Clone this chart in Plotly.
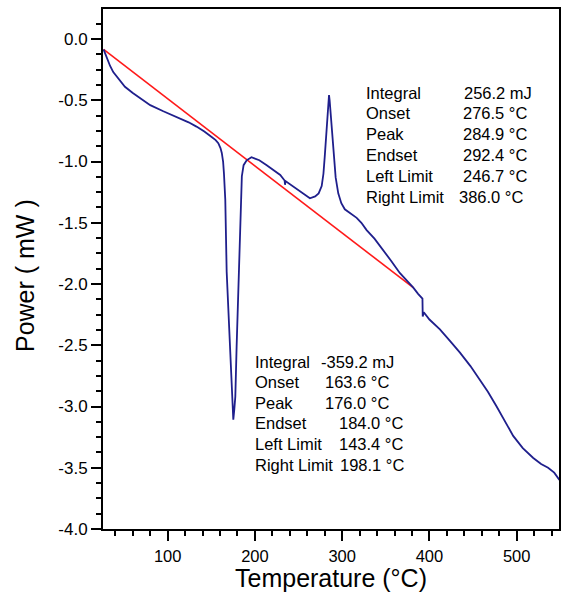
import plotly.graph_objects as go

# ---- DSC curve (Temperature °C, Power mW) ----
temperature = [26.5, 30, 34, 37.6, 44, 51, 60, 68, 80, 95, 105, 114, 124, 133, 142,
               150.4, 155, 158, 160.5, 162, 163.5, 164.5, 166, 167.6, 169.5, 171.4,
               173, 174, 175.2, 176.4, 177.5, 179, 180.9, 182.5, 183.5, 185, 187,
               190.5, 196, 205, 213.5, 222, 229, 234, 234.5, 235, 241, 248, 256,
               263, 269, 273, 276.5, 278.5, 280, 281.5, 283, 284.3, 284.9, 285.6,
               287, 288.5, 290, 292.5, 295.5, 299, 303, 310, 316.6, 322, 328, 337,
               347, 356, 366, 374, 381.5, 387, 392, 392.3, 393.5, 400, 412, 423,
               435, 447, 458, 467, 477, 486, 496, 507, 519, 528, 536, 543, 549]
power = [-0.085, -0.15, -0.22, -0.27, -0.33, -0.39, -0.44, -0.48, -0.54, -0.59,
         -0.62, -0.65, -0.68, -0.715, -0.755, -0.80, -0.825, -0.85, -0.89, -0.93,
         -1.0, -1.1, -1.31, -1.9, -2.2, -2.51, -2.75, -2.92, -3.108, -3.02, -2.92,
         -2.51, -2.0, -1.59, -1.3, -1.12, -1.03, -0.99, -0.965, -0.99, -1.03,
         -1.07, -1.11, -1.155, -1.19, -1.16, -1.19, -1.23, -1.27, -1.30, -1.285,
         -1.26, -1.2, -1.1, -0.96, -0.8, -0.63, -0.5, -0.457, -0.5, -0.63, -0.8,
         -0.96, -1.13, -1.26, -1.34, -1.39, -1.43, -1.46, -1.5, -1.56, -1.63,
         -1.72, -1.81, -1.91, -1.97, -2.03, -2.08, -2.12, -2.265, -2.23, -2.29,
         -2.37, -2.46, -2.56, -2.67, -2.78, -2.88, -3.0, -3.11, -3.24, -3.34,
         -3.42, -3.47, -3.50, -3.54, -3.60]

# ---- integration baseline (red) ----
baseline_t = [26.5, 381.5]
baseline_p = [-0.085, -2.03]

# ---- result tables ----
exo_labels = ["Integral", "Onset", "Peak", "Endset", "Left Limit", "Right Limit"]
exo_values = ["256.2 mJ", "276.5 °C", "284.9 °C", "292.4 °C", "246.7 °C", "386.0 °C"]
endo_labels = ["Integral", "Onset", "Peak", "Endset", "Left Limit", "Right Limit"]
endo_values = ["-359.2 mJ", "163.6 °C", "176.0 °C", "184.0 °C", "143.4 °C", "198.1 °C"]

# ---- tick values and titles ----
x_ticks = [100, 200, 300, 400, 500]
y_ticks = [0.0, -0.5, -1.0, -1.5, -2.0, -2.5, -3.0, -3.5, -4.0]
x_title = "Temperature (°C)"
y_title = "Power ( mW )"

# annotation placement (data coordinates)
exo_label_x = 325.0
exo_value_x = [437.3, 436.2, 436.2, 436.2, 436.2, 431.6]
exo_row_y = [-0.443, -0.606, -0.775, -0.946, -1.117, -1.286]
endo_label_x = 198.1
endo_value_x = [273.4, 277.6, 277.6, 294.4, 293.7, 295.5]
endo_row_y = [-2.640, -2.803, -2.971, -3.135, -3.303, -3.475]

FONT = "Arial, 'Liberation Sans', sans-serif"

fig = go.Figure()
fig.add_trace(go.Scatter(x=baseline_t, y=baseline_p, mode="lines",
                         line=dict(color="#ff1a1a", width=1.6), showlegend=False))
fig.add_trace(go.Scatter(x=temperature, y=power, mode="lines",
                         line=dict(color="#1f1f8c", width=1.8), showlegend=False))

annotations = []
def add_row(x, y, text):
    annotations.append(dict(x=x, y=y, text=text, xref="x", yref="y",
                            xanchor="left", yanchor="middle", showarrow=False,
                            font=dict(size=16.5, color="black", family=FONT)))

for lab, val, vx, ry in zip(exo_labels, exo_values, exo_value_x, exo_row_y):
    add_row(exo_label_x, ry, lab)
    add_row(vx, ry, val)
for lab, val, vx, ry in zip(endo_labels, endo_values, endo_value_x, endo_row_y):
    add_row(endo_label_x, ry, lab)
    add_row(vx, ry, val)

# axis titles
annotations.append(dict(x=0.5, y=-0.095, xref="paper", yref="paper", text=x_title,
                        xanchor="center", yanchor="middle", showarrow=False,
                        font=dict(size=25, color="black", family=FONT)))
annotations.append(dict(x=-0.171, y=0.4865, xref="paper", yref="paper", text=y_title,
                        xanchor="center", yanchor="middle", showarrow=False, textangle=-90,
                        font=dict(size=25, color="black", family=FONT)))

fig.update_layout(
    width=562, height=592,
    margin=dict(l=103, r=3, t=9, b=63),
    paper_bgcolor="white", plot_bgcolor="white",
    font=dict(family=FONT, color="black"),
    annotations=annotations,
    xaxis=dict(
        range=[25.85, 548.5], tickvals=x_ticks, ticktext=[str(v) for v in x_ticks],
        ticks="outside", ticklen=10, tickwidth=2, tickcolor="black",
        showline=True, linewidth=2, linecolor="black", mirror=True,
        showgrid=False, zeroline=False, automargin=False, ticklabelstandoff=1,
        tickfont=dict(size=16.5, color="black"),
        minor=dict(dtick=20, tick0=0, ticks="outside", ticklen=5, tickwidth=2,
                   tickcolor="black", showgrid=False),
    ),
    yaxis=dict(
        range=[-4.0, 0.245], tickvals=y_ticks, ticktext=[f"{v:.1f}" for v in y_ticks],
        ticks="outside", ticklen=10, tickwidth=2, tickcolor="black",
        showline=True, linewidth=2, linecolor="black", mirror=True,
        showgrid=False, zeroline=False, automargin=False,
        tickfont=dict(size=17, color="black"),
        minor=dict(dtick=0.125, tick0=0, ticks="outside", ticklen=5, tickwidth=2,
                   tickcolor="black", showgrid=False),
    ),
)

fig.write_html("out.html",
               config={"displayModeBar": False},
               post_script="document.body.style.margin='0px';"
                           "document.body.style.overflow='hidden';")
